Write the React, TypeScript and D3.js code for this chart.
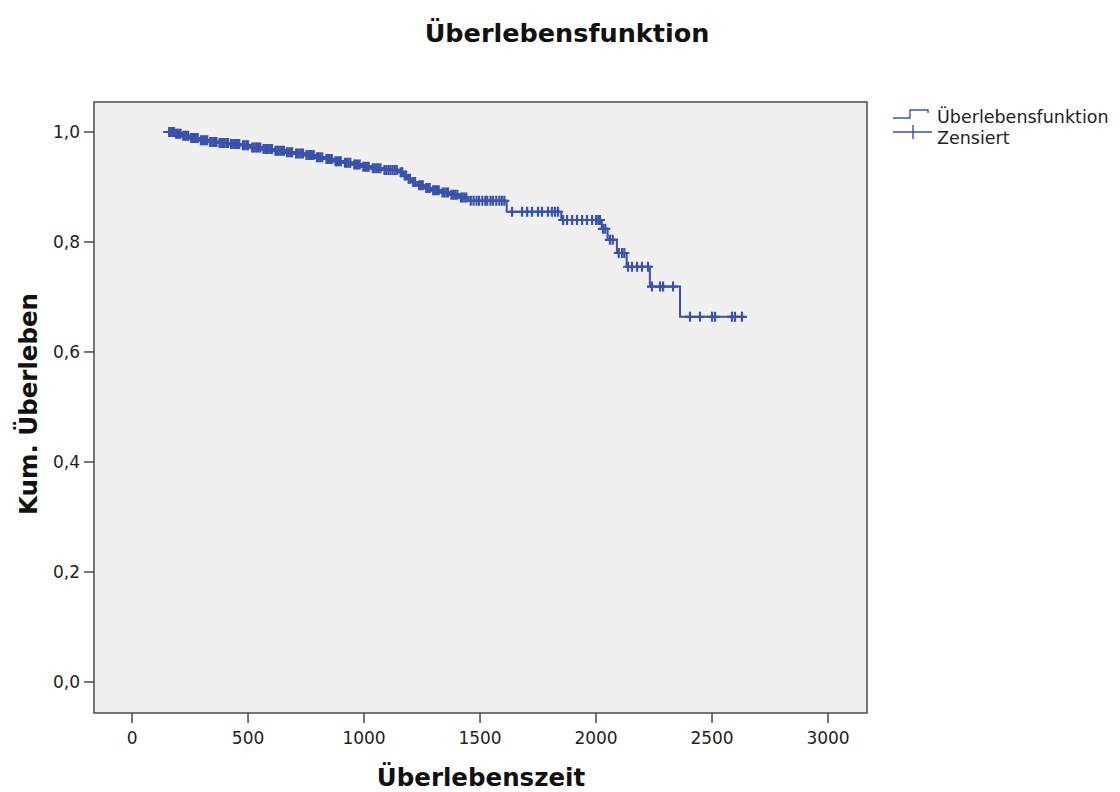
import * as d3 from "d3";

// Kaplan-Meier steps: time (days) and survival after the step
const stepTimes = [
  134, 185, 215, 250, 290, 330, 370, 420, 470, 510, 560, 610, 660, 700, 745, 790,
  830, 870, 910, 950, 990, 1030, 1080, 1150, 1170, 1185, 1205, 1230, 1260, 1290,
  1330, 1370, 1410, 1450, 1615, 1850, 2025, 2050, 2090, 2132, 2232, 2362, 2640,
];
const stepSurvival = [
  1.0, 0.997, 0.993, 0.989, 0.985, 0.982, 0.98, 0.978, 0.976, 0.972, 0.969, 0.966,
  0.963, 0.961, 0.958, 0.954, 0.951, 0.947, 0.944, 0.941, 0.937, 0.934, 0.931, 0.927,
  0.921, 0.915, 0.909, 0.903, 0.898, 0.894, 0.89, 0.886, 0.881, 0.875, 0.855, 0.84,
  0.824, 0.804, 0.78, 0.755, 0.719, 0.664, 0.664,
];

// censored observations (days)
const censoredTimes = [
  160, 168, 175, 181, 190, 196, 203, 209, 221, 228, 236, 242, 255, 262, 268, 276,
  283, 297, 304, 311, 318, 324, 337, 343, 351, 358, 364, 377, 385, 392, 399, 408,
  414, 427, 433, 441, 448, 456, 462, 478, 485, 493, 500, 518, 524, 532, 539, 546,
  553, 567, 574, 582, 589, 597, 603, 618, 625, 632, 640, 647, 655, 668, 675, 683,
  690, 707, 714, 722, 730, 737, 752, 760, 767, 775, 783, 797, 805, 812, 820, 838,
  845, 853, 861, 877, 884, 892, 900, 918, 925, 933, 941, 958, 965, 973, 981, 997,
  1005, 1012, 1020, 1038, 1046, 1055, 1063, 1071, 1088, 1096, 1105, 1114, 1123,
  1132, 1141, 1158, 1165, 1176, 1180, 1192, 1198, 1212, 1220, 1238, 1246, 1253,
  1268, 1276, 1283, 1298, 1306, 1314, 1322, 1338, 1346, 1355, 1362, 1377, 1385,
  1393, 1402, 1418, 1425, 1433, 1441, 1460, 1472, 1485, 1496, 1510, 1523, 1531,
  1545, 1556, 1570, 1583, 1594, 1605, 1638, 1681, 1703, 1724, 1750, 1767, 1793,
  1810, 1823, 1836, 1858, 1875, 1897, 1918, 1940, 1961, 1983, 2000, 2010, 2017,
  2030, 2040, 2060, 2072, 2098, 2112, 2122, 2138, 2155, 2177, 2198, 2224, 2241,
  2276, 2289, 2332, 2405, 2448, 2500, 2513, 2586, 2599, 2629,
];

const xTicks = [0, 500, 1000, 1500, 2000, 2500, 3000];
const yTicks = [0, 0.2, 0.4, 0.6, 0.8, 1.0];

const title = "Überlebensfunktion";
const xLabel = "Überlebenszeit";
const yLabel = "Kum. Überleben";
const legendLabels = ["Überlebensfunktion", "Zensiert"];

const W = 1120;
const H = 792;
const plot = { left: 94, right: 867, top: 102, bottom: 713 };
const blue = "#3a51ae";
const font = "'DejaVu Sans', Verdana, sans-serif";

export default function App() {
  const x = d3.scaleLinear().domain([-164, 3168]).range([plot.left, plot.right]);
  const y = d3.scaleLinear().domain([-0.0564, 1.0545]).range([plot.bottom, plot.top]);

  const pts: [number, number][] = stepTimes.map((t, i) => [t, stepSurvival[i]]);
  const line = d3
    .line<[number, number]>()
    .x((d) => x(d[0]))
    .y((d) => y(d[1]))
    .curve(d3.curveStepAfter);

  const bis = d3.bisector((d: number) => d).right;
  const survAt = (t: number) => stepSurvival[Math.max(0, bis(stepTimes, t) - 1)];

  const fmt = (v: number) => d3.format(".1f")(v).replace(".", ",");
  const m = 5; // half size of censor mark

  return (
    <svg width={W} height={H} style={{ position: "absolute", left: 0, top: 0 }} fontFamily={font}>
      <rect width={W} height={H} fill="#fff" />
      <text x={567} y={42} textAnchor="middle" fontSize={25.5} fontWeight="bold" fill="#111">
        {title}
      </text>

      <rect
        x={plot.left}
        y={plot.top}
        width={plot.right - plot.left}
        height={plot.bottom - plot.top}
        fill="#f0f0f0"
        stroke="#4a4a4a"
        strokeWidth={1.5}
      />

      {yTicks.map((t) => (
        <g key={"y" + t}>
          <line x1={plot.left - 10} x2={plot.left} y1={y(t)} y2={y(t)} stroke="#4a4a4a" strokeWidth={1.5} />
          <text x={plot.left - 14} y={y(t)} dy="0.36em" textAnchor="end" fontSize={17} fill="#222">
            {fmt(t)}
          </text>
        </g>
      ))}
      {xTicks.map((t) => (
        <g key={"x" + t}>
          <line x1={x(t)} x2={x(t)} y1={plot.bottom} y2={plot.bottom + 10} stroke="#4a4a4a" strokeWidth={1.5} />
          <text x={x(t)} y={744} textAnchor="middle" fontSize={17} fill="#222">
            {t}
          </text>
        </g>
      ))}

      <text x={481} y={786} textAnchor="middle" fontSize={24.5} fontWeight="bold" fill="#111">
        {xLabel}
      </text>
      <text
        transform={`translate(37,404) rotate(-90)`}
        textAnchor="middle"
        fontSize={24.5}
        fontWeight="bold"
        fill="#111"
      >
        {yLabel}
      </text>

      <path d={line(pts) || ""} fill="none" stroke={blue} strokeWidth={2} />
      <g stroke={blue} strokeWidth={2.2}>
        {censoredTimes.map((t, i) => {
          const cx = x(t);
          const cy = y(survAt(t));
          return (
            <path key={i} d={`M${cx - m},${cy}H${cx + m}M${cx},${cy - m}V${cy + m}`} />
          );
        })}
      </g>

      {/* legend */}
      <path d="M893,118H910V110H928V113" fill="none" stroke={blue} strokeWidth={1.4} />
      <path d="M893,132H932M913,125V139" fill="none" stroke={blue} strokeWidth={1.4} />
      <text x={937} y={123} fontSize={17.5} fill="#222">
        {legendLabels[0]}
      </text>
      <text x={937} y={144} fontSize={17.5} fill="#222">
        {legendLabels[1]}
      </text>
    </svg>
  );
}
